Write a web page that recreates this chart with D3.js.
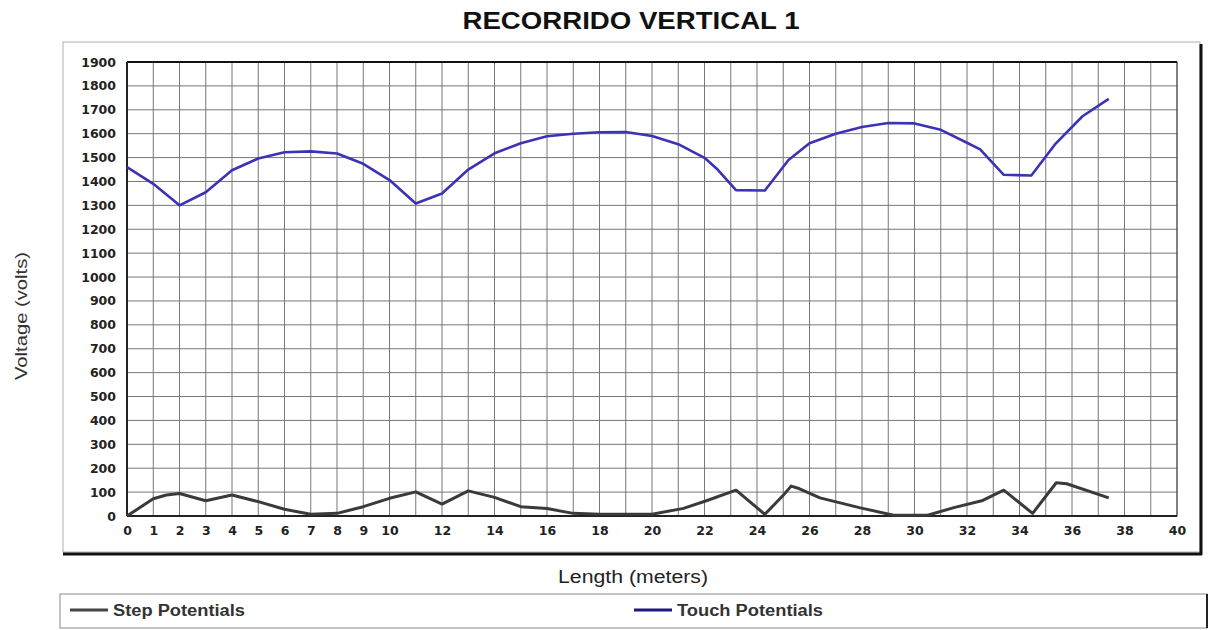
<!DOCTYPE html>
<html>
<head>
<meta charset="utf-8">
<script src="https://cdn.jsdelivr.net/npm/d3@7"></script>
<style>
  html, body { margin: 0; padding: 0; background: #fff; }
  svg { display: block; }
</style>
</head>
<body>
<svg id="chart" width="1214" height="630"></svg>
<script>
// ---- Data ----
const touchX = [0,1,2,3,4,5,6,7,8,9,10,11,12,13,14,15,16,17,18,19,20,21,22,22.5,23.2,24.3,25.2,26,27,28,29,30,31,32,32.5,33.4,34.45,35.35,36.4,37.4];
const touchY = [1460,1390,1300,1355,1447,1496,1522,1526,1517,1474,1406,1308,1350,1450,1518,1560,1589,1600,1606,1607,1590,1556,1499,1450,1364,1362,1490,1560,1600,1628,1645,1643,1616,1562,1534,1428,1425,1555,1673,1746];
const stepX = [0,1,1.5,2,3,4,5,6,7,8,9,10,11,12,13,14,15,16,17,18,20,21.2,22.1,23.2,24.3,25.0,25.3,25.6,26.4,27.9,29.2,30.5,31.5,32.6,33.4,34.5,35.4,35.8,37.4];
const stepY = [0,72,88,94,64,88,60,28,7,11,39,74,101,50,105,78,39,31,11,7,7,32,65,108,7,87,125,115,76,35,3,3,35,65,108,11,139,135,76];
const xTicks = [0,1,2,3,4,5,6,7,8,9,10,12,14,16,18,20,22,24,26,28,30,32,34,36,38,40];
const yTicks = [0,100,200,300,400,500,600,700,800,900,1000,1100,1200,1300,1400,1500,1600,1700,1800,1900];
const seriesNames = ["Step Potentials", "Touch Potentials"];
const titleText = "RECORRIDO VERTICAL 1";
const xLabel = "Length (meters)";
const yLabel = "Voltage (volts)";

// ---- Layout ----
const svg = d3.select("#chart");
const L = 127, R = 1177, T = 62, B = 516;
const x = d3.scaleLinear().domain([0, 40]).range([L, R]);
const y = d3.scaleLinear().domain([0, 1900]).range([B, T]);
const touchColor = "#3b33b3";
const stepColor = "#3a3a3a";

// Outer chart frame
svg.append("rect").attr("x", 63).attr("y", 42).attr("width", 1137).attr("height", 510)
  .attr("fill", "#fff").attr("stroke", "#b0b0b0").attr("stroke-width", 1);
svg.append("line").attr("x1", 1201).attr("x2", 1201).attr("y1", 44).attr("y2", 555)
  .attr("stroke", "#111").attr("stroke-width", 3);
svg.append("line").attr("x1", 63).attr("x2", 1202).attr("y1", 554).attr("y2", 554)
  .attr("stroke", "#111").attr("stroke-width", 3);

// Title
svg.append("text").attr("x", 631).attr("y", 29).attr("text-anchor", "middle")
  .attr("font-family", "Liberation Sans, Arial, sans-serif").attr("font-weight", "bold")
  .attr("font-size", 24).attr("fill", "#111")
  .attr("textLength", 337).attr("lengthAdjust", "spacingAndGlyphs")
  .text(titleText);

// Grid
const g = svg.append("g");
g.selectAll("line.vg").data(d3.range(0, 41)).join("line").attr("class", "vg")
  .attr("x1", d => x(d)).attr("x2", d => x(d)).attr("y1", T).attr("y2", B)
  .attr("stroke", "#777").attr("stroke-width", 1);
g.selectAll("line.hg").data(yTicks).join("line").attr("class", "hg")
  .attr("x1", L).attr("x2", R).attr("y1", d => y(d)).attr("y2", d => y(d))
  .attr("stroke", "#777").attr("stroke-width", 1);

// Plot border
svg.append("rect").attr("x", L).attr("y", T).attr("width", R - L).attr("height", B - T)
  .attr("fill", "none").attr("stroke", "#444").attr("stroke-width", 1);
svg.append("line").attr("x1", L).attr("x2", R).attr("y1", T).attr("y2", T)
  .attr("stroke", "#111").attr("stroke-width", 2);
svg.append("line").attr("x1", L).attr("x2", L).attr("y1", T).attr("y2", B)
  .attr("stroke", "#222").attr("stroke-width", 2);
svg.append("line").attr("x1", L).attr("x2", R).attr("y1", B).attr("y2", B)
  .attr("stroke", "#222").attr("stroke-width", 2);

// Axes
const yAxis = svg.append("g").attr("transform", `translate(${L},0)`)
  .call(d3.axisLeft(y).tickValues(yTicks).tickSize(0).tickPadding(11).tickFormat(d3.format("d")));
const xAxis = svg.append("g").attr("transform", `translate(0,${B})`)
  .call(d3.axisBottom(x).tickValues(xTicks).tickSize(0).tickPadding(10).tickFormat(d3.format("d")));
[yAxis, xAxis].forEach(a => {
  a.select(".domain").remove();
  a.selectAll("text").attr("font-family", "DejaVu Sans, sans-serif").attr("font-weight", "bold")
    .attr("font-size", 12.5).attr("fill", "#222");
});

// Lines
const lineGen = d3.line().x(d => x(d[0])).y(d => y(d[1]));
const stepData = stepX.map((v, i) => [v, stepY[i]]);
const touchData = touchX.map((v, i) => [v, touchY[i]]);
svg.append("path").datum(stepData).attr("d", lineGen).attr("fill", "none")
  .attr("stroke", stepColor).attr("stroke-width", 3).attr("stroke-linejoin", "round");
svg.append("path").datum(touchData).attr("d", lineGen).attr("fill", "none")
  .attr("stroke", touchColor).attr("stroke-width", 2.6).attr("stroke-linejoin", "round");

// Axis titles
svg.append("text").attr("x", 633).attr("y", 583).attr("text-anchor", "middle")
  .attr("font-family", "Liberation Sans, Arial, sans-serif").attr("font-size", 18)
  .attr("fill", "#222").attr("textLength", 150).attr("lengthAdjust", "spacingAndGlyphs")
  .text(xLabel);
svg.append("text").attr("transform", "translate(27,316) rotate(-90)").attr("text-anchor", "middle")
  .attr("font-family", "Liberation Sans, Arial, sans-serif").attr("font-size", 17)
  .attr("fill", "#333").attr("textLength", 128).attr("lengthAdjust", "spacingAndGlyphs")
  .text(yLabel);

// Legend
svg.append("rect").attr("x", 60).attr("y", 594).attr("width", 1147).attr("height", 34)
  .attr("fill", "#fff").attr("stroke", "#8a8a8a").attr("stroke-width", 1);
svg.append("line").attr("x1", 1207).attr("x2", 1207).attr("y1", 594).attr("y2", 628)
  .attr("stroke", "#222").attr("stroke-width", 2);
const legendItems = [
  { name: seriesNames[0], color: "#444", lx: 70, tx: 113, w: 132 },
  { name: seriesNames[1], color: "#1f1a80", lx: 634, tx: 677, w: 146 }
];
legendItems.forEach(it => {
  svg.append("line").attr("x1", it.lx).attr("x2", it.lx + 38).attr("y1", 610).attr("y2", 610)
    .attr("stroke", it.color).attr("stroke-width", 3);
  svg.append("text").attr("x", it.tx).attr("y", 616)
    .attr("font-family", "Liberation Sans, Arial, sans-serif").attr("font-weight", "bold")
    .attr("font-size", 16)
    .attr("fill", "#333").attr("textLength", it.w).attr("lengthAdjust", "spacingAndGlyphs")
    .text(it.name);
});
</script>
</body>
</html>
